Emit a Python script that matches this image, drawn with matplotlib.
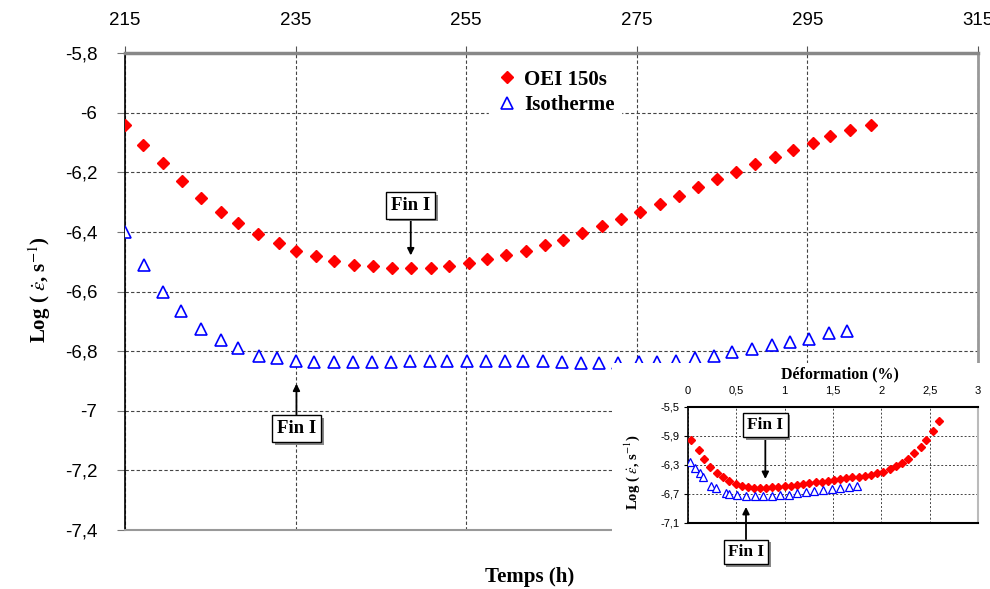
import matplotlib
matplotlib.use('Agg')
import matplotlib.pyplot as plt
import matplotlib.patheffects as pe
from matplotlib.patches import Rectangle
from matplotlib.ticker import FuncFormatter

# ---- main chart data (temps en h, log vitesse) ----
oei_t = [215.0, 217.1, 219.4, 221.7, 223.9, 226.2, 228.3, 230.6, 233.0, 235.1,
         237.4, 239.5, 241.9, 244.1, 246.3, 248.5, 250.9, 253.0, 255.3, 257.4,
         259.7, 262.0, 264.2, 266.4, 268.6, 270.9, 273.2, 275.4, 277.7, 280.0,
         282.2, 284.4, 286.6, 288.9, 291.2, 293.3, 295.6, 297.7, 300.0, 302.4]
oei_v = [-6.04, -6.11, -6.17, -6.23, -6.285, -6.333, -6.37, -6.407, -6.436, -6.465,
         -6.482, -6.498, -6.51, -6.515, -6.522, -6.522, -6.522, -6.516, -6.505, -6.492,
         -6.479, -6.465, -6.445, -6.428, -6.403, -6.379, -6.356, -6.333, -6.305, -6.281,
         -6.251, -6.224, -6.2, -6.173, -6.149, -6.126, -6.102, -6.078, -6.059, -6.04]

iso_t = [215.0, 217.2, 219.4, 221.6, 223.9, 226.2, 228.3, 230.7, 232.8, 235.1,
         237.2, 239.5, 241.7, 244.0, 246.2, 248.4, 250.7, 252.8, 255.1, 257.3,
         259.6, 261.7, 264.0, 266.2, 268.4, 270.6, 272.8, 275.2, 277.4, 279.6,
         281.8, 284.0, 286.2, 288.5, 290.8, 293.0, 295.2, 297.5, 299.6]
iso_v = [-6.40, -6.51, -6.60, -6.667, -6.725, -6.762, -6.791, -6.815, -6.824, -6.834,
         -6.838, -6.838, -6.838, -6.838, -6.835, -6.833, -6.833, -6.833, -6.833, -6.833,
         -6.833, -6.833, -6.833, -6.835, -6.84, -6.84, -6.84, -6.838, -6.835, -6.832,
         -6.823, -6.818, -6.804, -6.794, -6.781, -6.770, -6.759, -6.740, -6.734]

# ---- inset data (deformation en %) ----
oei_d = [0.034, 0.110, 0.169, 0.231, 0.299, 0.361, 0.423, 0.492, 0.554, 0.619,
         0.681, 0.747, 0.812, 0.874, 0.936, 1.001, 1.066, 1.128, 1.194, 1.256,
         1.321, 1.386, 1.448, 1.510, 1.576, 1.638, 1.700, 1.765, 1.830, 1.892,
         1.958, 2.019, 2.085, 2.150, 2.212, 2.278, 2.339, 2.408, 2.467, 2.532, 2.594]
oei_dv = [-5.96, -6.098, -6.222, -6.328, -6.411, -6.475, -6.525, -6.562, -6.594, -6.608,
          -6.617, -6.617, -6.617, -6.608, -6.603, -6.599, -6.590, -6.580, -6.571, -6.557,
          -6.543, -6.534, -6.520, -6.511, -6.497, -6.483, -6.475, -6.466, -6.456, -6.443,
          -6.420, -6.406, -6.360, -6.318, -6.272, -6.217, -6.144, -6.061, -5.960, -5.836, -5.698]
iso_d = [0.024, 0.069, 0.120, 0.155, 0.237, 0.292, 0.389, 0.420, 0.506, 0.602,
         0.695, 0.781, 0.867, 0.953, 1.042, 1.125, 1.218, 1.304, 1.393, 1.486,
         1.576, 1.662, 1.751]
iso_dv = [-6.259, -6.341, -6.420, -6.466, -6.590, -6.626, -6.691, -6.709, -6.723, -6.732,
          -6.732, -6.732, -6.728, -6.723, -6.718, -6.695, -6.682, -6.659, -6.650, -6.641,
          -6.626, -6.613, -6.595]

main_xticks = [215, 235, 255, 275, 295, 315]
main_yticks = [-5.8, -6.0, -6.2, -6.4, -6.6, -6.8, -7.0, -7.2, -7.4]
ins_xticks = [0, 0.5, 1, 1.5, 2, 2.5, 3]
ins_yticks = [-5.5, -5.9, -6.3, -6.7, -7.1]

SANS = 'Liberation Sans'
SERIF = 'Liberation Serif'
plt.rcParams['mathtext.fontset'] = 'stix'


def comma(v, pos=None):
    return ('%g' % round(v, 3)).replace('.', ',')


def fin_box(ax, xy, xytext, size):
    ann = ax.annotate('Fin I', xy=xy, xytext=xytext, ha='center', va='center',
                      fontsize=size, fontweight='bold', family=SERIF,
                      annotation_clip=False, zorder=10,
                      bbox=dict(boxstyle='square,pad=0.25', fc='white', ec='black', lw=1),
                      arrowprops=dict(arrowstyle='-|>', color='black', lw=1.3,
                                      mutation_scale=10, shrinkA=0, shrinkB=0))
    ann.get_bbox_patch().set_path_effects([
        pe.SimplePatchShadow(offset=(2, -2), shadow_rgbFace='#888888', alpha=1),
        pe.Normal()])
    return ann


fig = plt.figure(figsize=(9.9, 5.89), dpi=100)
ax = fig.add_axes([125 / 990, 1 - 530 / 589, 853 / 990, 477 / 589])

ax.plot(oei_t, oei_v, linestyle='none', marker='D', ms=6.5, color='#ff0000',
        mec='#ff0000', label='OEI 150s', zorder=4)
ax.plot(iso_t, iso_v, linestyle='none', marker='^', ms=8.5, mfc='white',
        mec='#0000ff', mew=1.2, label='Isotherme', zorder=4)

ax.set_xlim(215, 315)
ax.set_ylim(-7.4, -5.8)
ax.set_xticks(main_xticks)
ax.set_yticks(main_yticks)
ax.xaxis.set_major_formatter(FuncFormatter(comma))
ax.yaxis.set_major_formatter(FuncFormatter(comma))
ax.xaxis.tick_top()
ax.tick_params(axis='x', top=True, bottom=False, length=5, color='#555555',
               pad=12, labelsize=13.5)
ax.tick_params(axis='y', length=6, color='#777777', pad=14, labelsize=13.5)
for lab in ax.get_xticklabels() + ax.get_yticklabels():
    lab.set_family(SANS)
ax.grid(True, linestyle=(0, (3, 2)), color='#444444', lw=0.8)
ax.set_axisbelow(True)
ax.spines['top'].set_color('#888888')
ax.spines['top'].set_linewidth(2.5)
ax.spines['right'].set_color('#999999')
ax.spines['right'].set_linewidth(2)
ax.spines['bottom'].set_color('#999999')
ax.spines['bottom'].set_linewidth(1.5)
ax.spines['left'].set_color('black')
ax.spines['left'].set_linewidth(1.2)

leg = ax.legend(loc='upper left', bbox_to_anchor=(0.414, 1.0), frameon=True,
                framealpha=1, edgecolor='white', fancybox=False,
                prop={'family': SERIF, 'weight': 'bold', 'size': 15},
                handletextpad=0.2, borderpad=0.3, labelspacing=0.25,
                handlelength=1.2)

fin_box(ax, (248.5, -6.479), (248.5, -6.311), 13.5)
fin_box(ax, (235.1, -6.909), (235.1, -7.06), 13.5)

fig.text(530 / 990, 1 - 577 / 589, 'Temps (h)', ha='center', va='center',
         fontsize=15, fontweight='bold', family=SERIF)
fig.text(40 / 990, 1 - 290 / 589, r'Log ( $\dot{\varepsilon}$, s$^{-1}$)',
         rotation=90, ha='center', va='center', fontsize=15,
         fontweight='bold', family=SERIF)

# white background for the inset figure
fig.patches.append(Rectangle((612 / 990, 0), 378 / 990, 1 - 363 / 589,
                             transform=fig.transFigure, fc='white', ec='none',
                             zorder=5))

ins = fig.add_axes([688 / 990, 1 - 522.7 / 589, 290 / 990, 116 / 589], zorder=6)
ins.plot(oei_d, oei_dv, linestyle='none', marker='D', ms=4.2, color='#ff0000',
         mec='#ff0000', zorder=4)
ins.plot(iso_d, iso_dv, linestyle='none', marker='^', ms=5.5, mfc='white',
         mec='#0000ff', mew=0.9, zorder=4)
ins.set_xlim(0, 3)
ins.set_ylim(-7.1, -5.5)
ins.set_xticks(ins_xticks)
ins.set_yticks(ins_yticks)
ins.xaxis.set_major_formatter(FuncFormatter(comma))
ins.yaxis.set_major_formatter(FuncFormatter(comma))
ins.xaxis.tick_top()
ins.tick_params(axis='x', top=True, bottom=False, length=0, pad=9.5, labelsize=8)
ins.tick_params(axis='y', length=3, pad=3, labelsize=8)
for lab in ins.get_yticklabels():
    lab.set_family(SANS)
for tick in ins.xaxis.get_major_ticks():
    tick.label2.set_family(SANS)
    tick.label2.set_verticalalignment('baseline')
ins.grid(True, linestyle=(0, (2, 2)), color='#444444', lw=0.7)
ins.set_axisbelow(True)
ins.spines['top'].set_linewidth(1.5)
ins.spines['bottom'].set_linewidth(1.5)
ins.spines['left'].set_linewidth(1.2)
ins.spines['right'].set_color('#bbbbbb')
ins.spines['right'].set_linewidth(1.5)
fig.text(840 / 990, 1 - 374 / 589, 'Déformation (%)', ha='center', va='center',
         fontsize=11.5, fontweight='bold', family=SERIF, zorder=7)
fig.text(632 / 990, 1 - 472 / 589, r'Log ( $\dot{\varepsilon}$, s$^{-1}$)',
         rotation=90, ha='center', va='center', fontsize=10.5,
         fontweight='bold', family=SERIF, zorder=7)

fin_box(ins, (0.80, -6.497), (0.80, -5.752), 12.5)
fin_box(ins, (0.60, -6.883), (0.60, -7.504), 12.5)

fig.savefig('out.png', dpi=100)
